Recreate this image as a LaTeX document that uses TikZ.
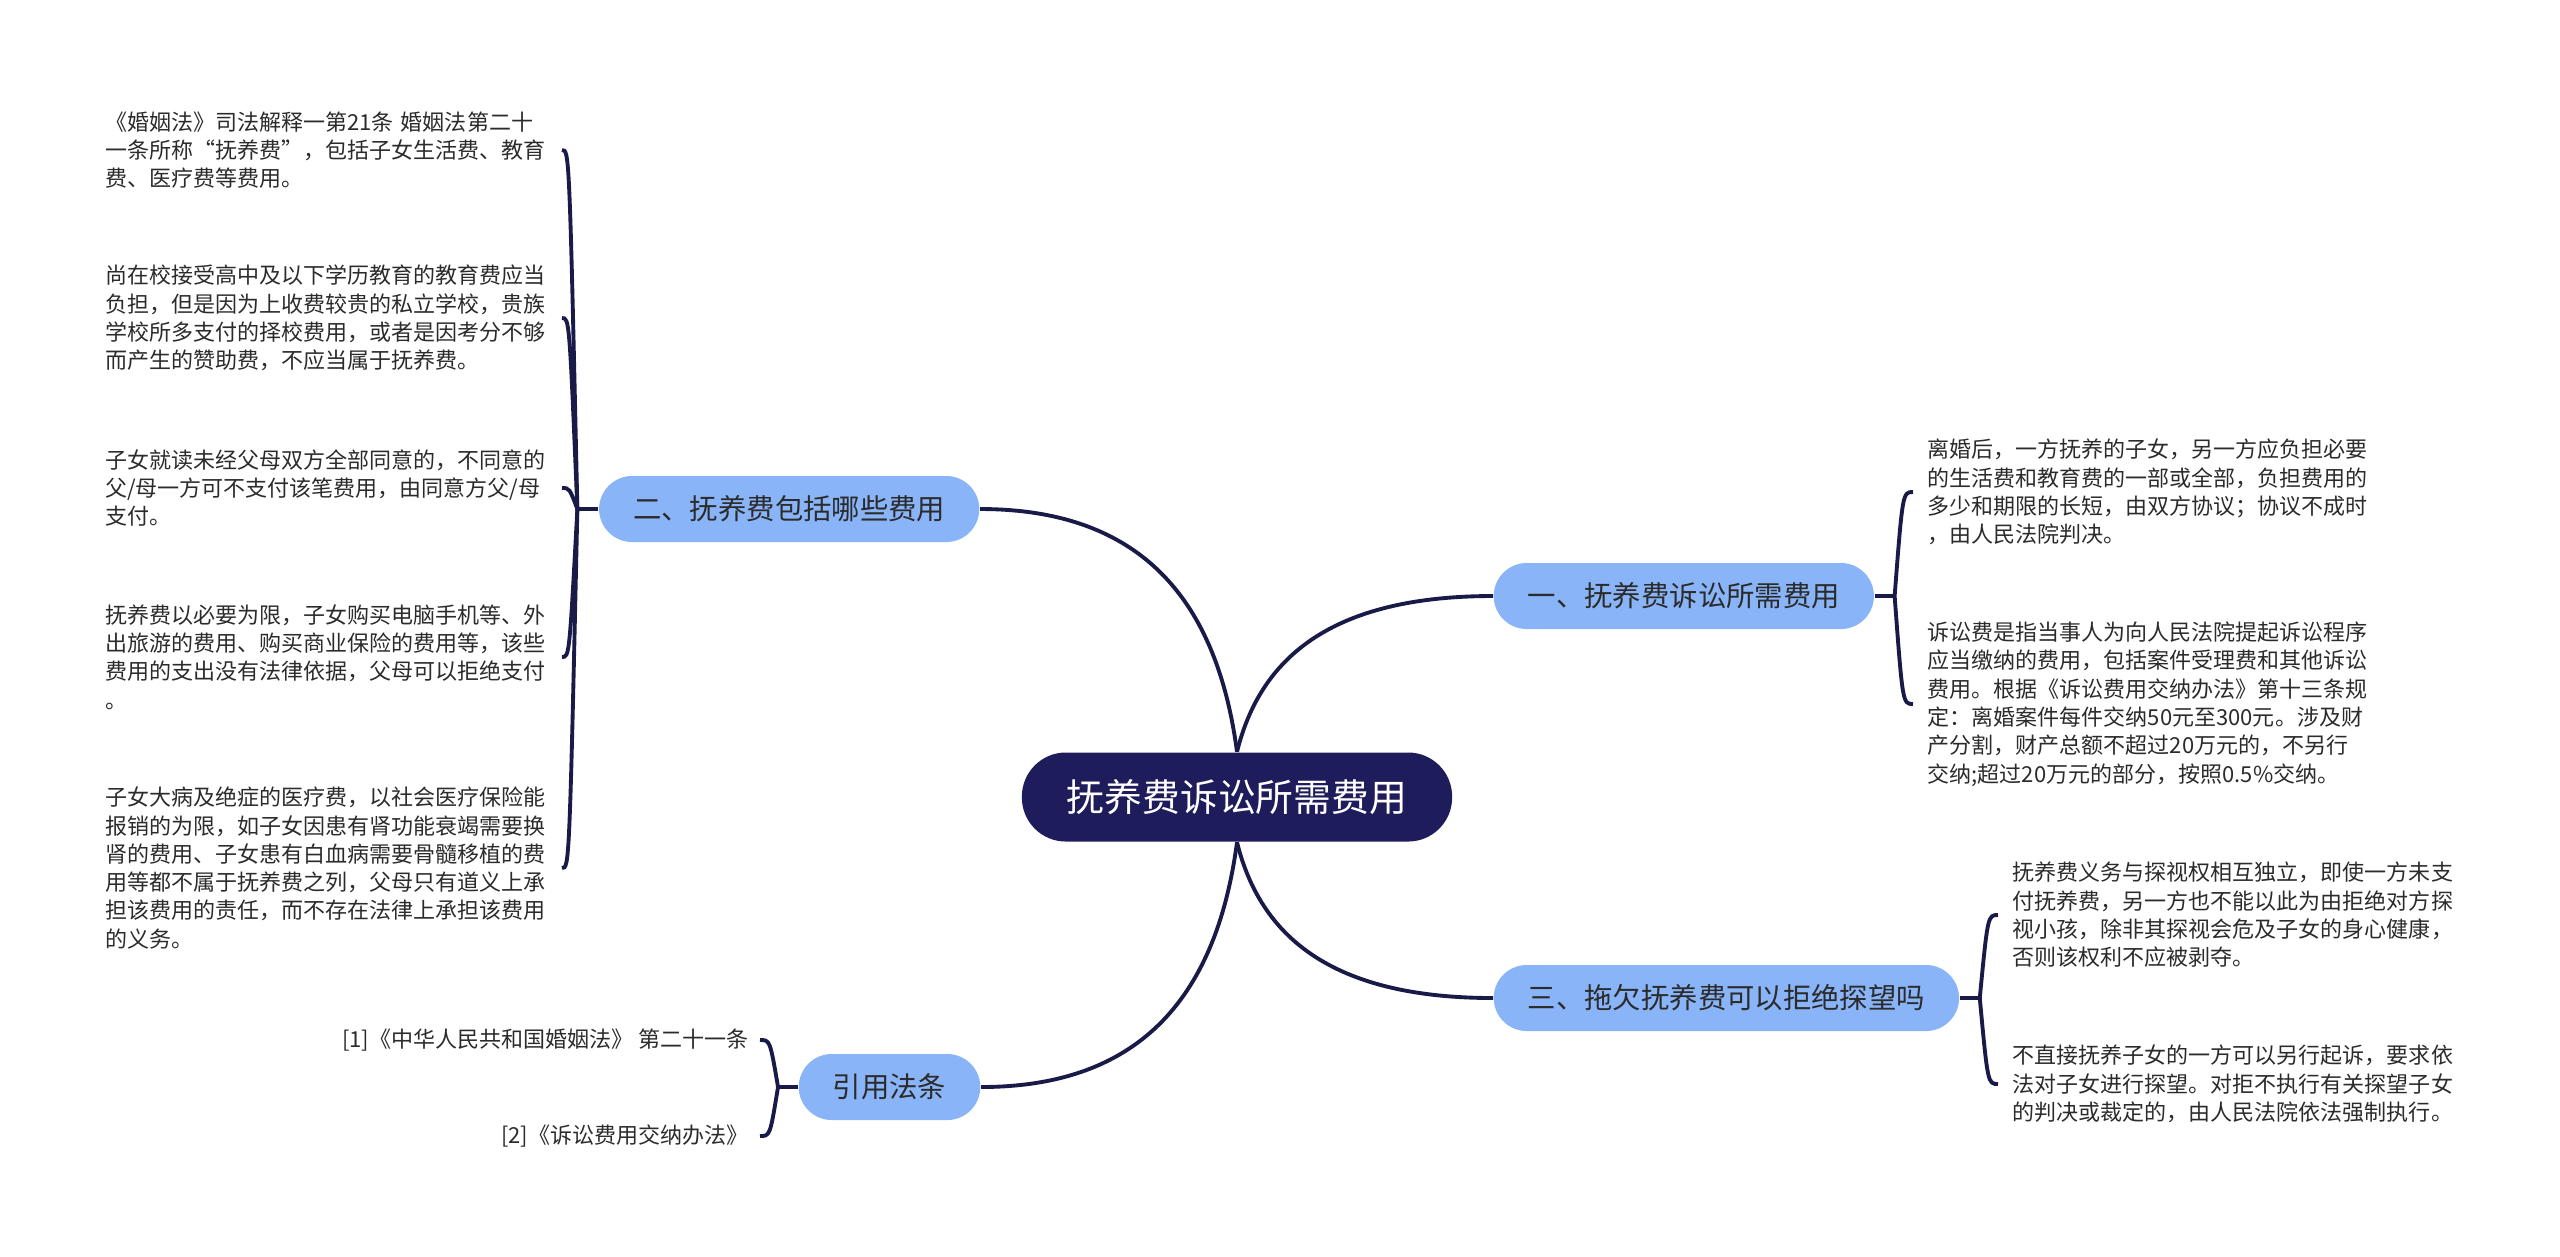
\documentclass[tikz,border=0pt]{standalone}
\usepackage{fontspec}
\setmainfont{Noto Sans CJK SC}
\definecolor{navy}{HTML}{1E1C5A}
\definecolor{deep}{HTML}{1A1A48}
\definecolor{sky}{HTML}{8AB4F8}
\definecolor{ink}{HTML}{2B2B2B}

\begin{document}
\begin{tikzpicture}[x=0.01cm,y=-0.01cm,text=ink,
 root/.style={fill=navy,text=white,rounded corners=0.44cm,minimum height=0.89cm,inner xsep=0.45cm,inner ysep=0pt,font=\fontsize{10.75pt}{13pt}\selectfont},
 topic/.style={fill=sky,rounded corners=0.33cm,minimum height=0.66cm,inner xsep=0.34cm,inner ysep=0pt,font=\fontsize{8.07pt}{10pt}\selectfont},
 leaf/.style={text width=4.42cm,align=left,inner xsep=0.14cm,inner ysep=0pt,font=\fontsize{6.26pt}{8.05pt}\selectfont},
 cite/.style={inner xsep=0.11cm,inner ysep=0pt,font=\fontsize{6.26pt}{8.05pt}\selectfont},
 link/.style={draw=deep,line width=1.1pt}]
\path[use as bounding box] (0,0) rectangle (2560,1256);
\node[root] (main) at (1237,797) {抚养费诉讼所需费用};
\node[topic,anchor=west] (b1) at (1493,596) {一、抚养费诉讼所需费用};
\node[topic,anchor=east] (b2) at (980,509) {二、抚养费包括哪些费用};
\node[topic,anchor=west] (b3) at (1493,998) {三、拖欠抚养费可以拒绝探望吗};
\node[topic,anchor=east] (b4) at (981,1087) {引用法条};
\draw[link] (main.north) .. controls +(23,-93) and +(-163,0) .. (b1.west);
\draw[link] (main.north) .. controls +(-20,-150) and +(163,0) .. (b2.east);
\draw[link] (main.south) .. controls +(23,93) and +(-163,0) .. (b3.west);
\draw[link] (main.south) .. controls +(-20,150) and +(163,0) .. (b4.east);
\coordinate (j1) at ([xshift=0.2cm]b1.east);
\coordinate (j2) at ([xshift=-0.21cm]b2.west);
\coordinate (j3) at ([xshift=0.2cm]b3.east);
\coordinate (j4) at ([xshift=-0.2cm]b4.west);
\coordinate (k1) at ([xshift=0.08cm]j1);
\coordinate (k2) at ([xshift=-0.08cm]j2);
\coordinate (k3) at ([xshift=0.08cm]j3);
\coordinate (k4) at ([xshift=-0.08cm]j4);
\draw[link] (b1.east) -- (j1);
\draw[link] (b2.west) -- (j2);
\draw[link] (b3.east) -- (j3);
\draw[link] (b4.west) -- (j4);
\node[leaf,anchor=west] (r1) at (1913,492) {离婚后，一方抚养的子女，另一方应负担必要\\的生活费和教育费的一部或全部，负担费用的\\多少和期限的长短，由双方协议；协议不成时\\，由人民法院判决。};
\node[leaf,anchor=west] (r2) at (1913,704) {诉讼费是指当事人为向人民法院提起诉讼程序\\应当缴纳的费用，包括案件受理费和其他诉讼\\费用。根据《诉讼费用交纳办法》第十三条规\\定：离婚案件每件交纳50元至300元。涉及财\\产分割，财产总额不超过20万元的，不另行\\交纳;超过20万元的部分，按照0.5\%交纳。};
\node[leaf,anchor=east] (l1) at (562,150) {《婚姻法》司法解释一第21条 婚姻法第二十\\一条所称“抚养费”，包括子女生活费、教育\\费、医疗费等费用。};
\node[leaf,anchor=east] (l2) at (562,318) {尚在校接受高中及以下学历教育的教育费应当\\负担，但是因为上收费较贵的私立学校，贵族\\学校所多支付的择校费用，或者是因考分不够\\而产生的赞助费，不应当属于抚养费。};
\node[leaf,anchor=east] (l3) at (562,488) {子女就读未经父母双方全部同意的，不同意的\\父/母一方可不支付该笔费用，由同意方父/母\\支付。};
\node[leaf,anchor=east] (l4) at (562,657) {抚养费以必要为限，子女购买电脑手机等、外\\出旅游的费用、购买商业保险的费用等，该些\\费用的支出没有法律依据，父母可以拒绝支付\\。};
\node[leaf,anchor=east] (l5) at (562,868) {子女大病及绝症的医疗费，以社会医疗保险能\\报销的为限，如子女因患有肾功能衰竭需要换\\肾的费用、子女患有白血病需要骨髓移植的费\\用等都不属于抚养费之列，父母只有道义上承\\担该费用的责任，而不存在法律上承担该费用\\的义务。};
\node[leaf,anchor=west] (s1) at (1998,915) {抚养费义务与探视权相互独立，即使一方未支\\付抚养费，另一方也不能以此为由拒绝对方探\\视小孩，除非其探视会危及子女的身心健康，\\否则该权利不应被剥夺。};
\node[leaf,anchor=west] (s2) at (1998,1084) {不直接抚养子女的一方可以另行起诉，要求依\\法对子女进行探望。对拒不执行有关探望子女\\的判决或裁定的，由人民法院依法强制执行。};
\node[cite,anchor=east] (c1) at (760,1040) {[1]《中华人民共和国婚姻法》 第二十一条};
\node[cite,anchor=east] (c2) at (760,1136) {[2]《诉讼费用交纳办法》};
\draw[link] (j1) .. controls (k1 |- r1.west) .. (r1.west);
\draw[link] (j1) .. controls (k1 |- r2.west) .. (r2.west);
\draw[link] (j2) .. controls (k2 |- l1.east) .. (l1.east);
\draw[link] (j2) .. controls (k2 |- l2.east) .. (l2.east);
\draw[link] (j2) .. controls (k2 |- l3.east) .. (l3.east);
\draw[link] (j2) .. controls (k2 |- l4.east) .. (l4.east);
\draw[link] (j2) .. controls (k2 |- l5.east) .. (l5.east);
\draw[link] (j3) .. controls (k3 |- s1.west) .. (s1.west);
\draw[link] (j3) .. controls (k3 |- s2.west) .. (s2.west);
\draw[link] (j4) .. controls (k4 |- c1.east) .. (c1.east);
\draw[link] (j4) .. controls (k4 |- c2.east) .. (c2.east);
\end{tikzpicture}
\end{document}
